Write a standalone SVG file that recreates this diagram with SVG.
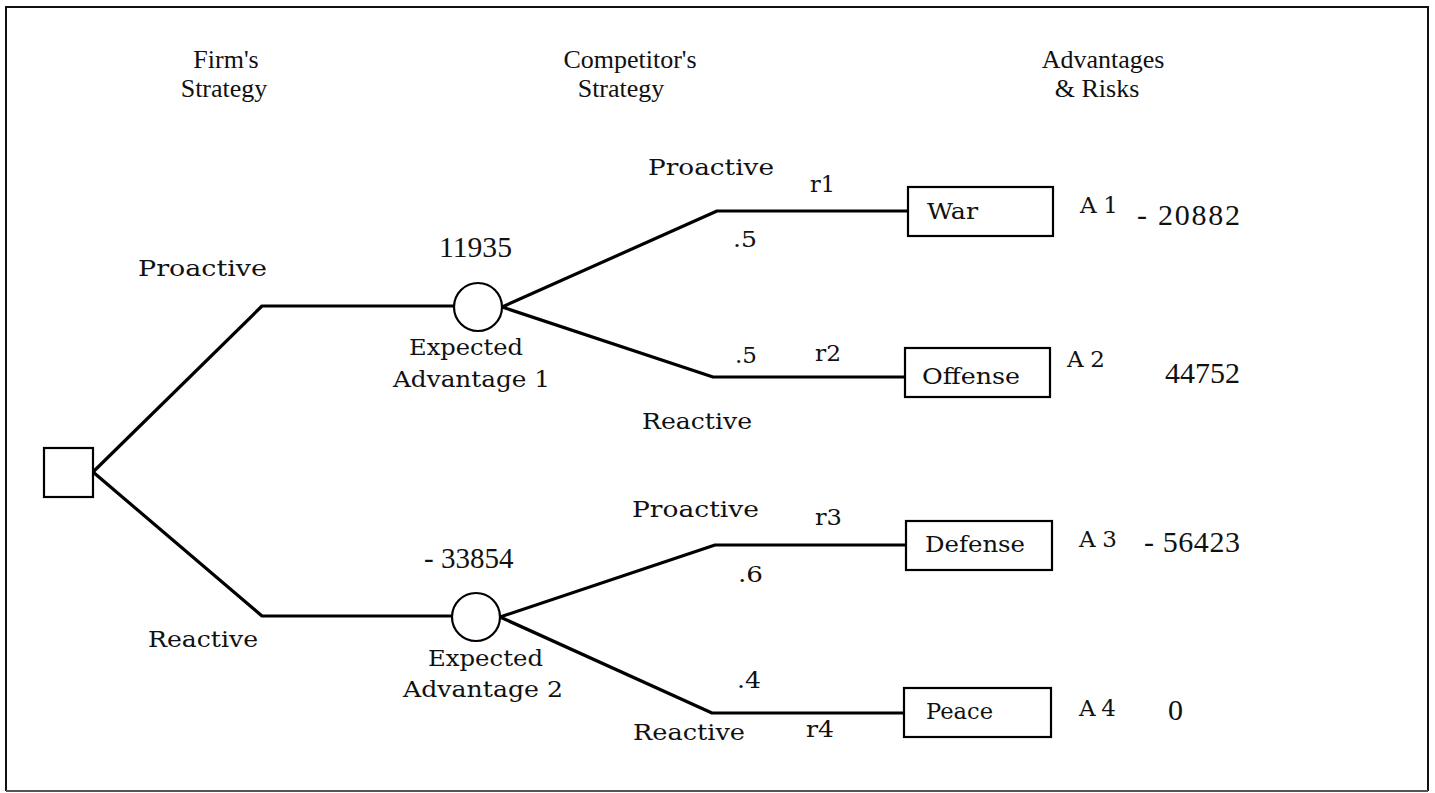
<svg xmlns="http://www.w3.org/2000/svg" width="1435" height="793" viewBox="0 0 1435 793">
  <style>
    .frame { fill: none; stroke: #111; stroke-width: 2; }
    .frame-bottom { stroke: #555; stroke-width: 2; }
    .edge { fill: none; stroke: #000; stroke-width: 3.2; stroke-linejoin: round; }
    .node { fill: #fff; stroke: #000; stroke-width: 2.2; }
    .head { font-family: "Liberation Serif", "Times New Roman", serif; font-size: 26px; fill: #111; text-anchor: middle; }
    .lab { font-family: "DejaVu Serif", "Liberation Serif", serif; font-size: 23px; fill: #111; }
    .num { font-family: "Liberation Serif", "Times New Roman", serif; font-size: 30px; fill: #111; }
  </style>
  <rect width="1435" height="793" fill="#fff"/>
  <polyline class="frame" points="6,791 6,7 1428,7 1428,791"/>
  <line class="frame-bottom" x1="6" y1="791" x2="1428" y2="791"/>

  <!-- column headers -->
  <g id="headers">
    <text class="head" x="226" y="68">Firm's</text>
    <text class="head" x="224" y="97">Strategy</text>
    <text class="head" x="630" y="68">Competitor's</text>
    <text class="head" x="621" y="97">Strategy</text>
    <text class="head" x="1103" y="68">Advantages</text>
    <text class="head" x="1097" y="97">&amp; Risks</text>
  </g>

  <!-- branches of the tree -->
  <g id="connectors">
    <polyline class="edge" points="93,472 262,306 454,306"/>
    <polyline class="edge" points="93,472 262,616 452,616"/>
    <polyline class="edge" points="502,307 717,211 908,211"/>
    <polyline class="edge" points="502,307 713,377 905,377"/>
    <polyline class="edge" points="500,617 715,545 906,545"/>
    <polyline class="edge" points="500,617 712,713 904,713"/>
  </g>

  <!-- decision node -->
  <g id="decision">
    <rect class="node" x="44" y="448" width="49" height="49"/>
  </g>

  <!-- chance nodes -->
  <g id="chance1">
    <circle class="node" cx="478" cy="307" r="24"/>
    <text class="num" x="439" y="257" textLength="73" lengthAdjust="spacingAndGlyphs">11935</text>
    <text class="lab" x="409" y="355" textLength="114" lengthAdjust="spacingAndGlyphs">Expected</text>
    <text class="lab" x="393" y="387" textLength="157" lengthAdjust="spacingAndGlyphs">Advantage 1</text>
  </g>
  <g id="chance2">
    <circle class="node" cx="476" cy="617" r="24"/>
    <text class="num" x="424" y="568" style="font-size:29px">- 33854</text>
    <text class="lab" x="428" y="666" textLength="115" lengthAdjust="spacingAndGlyphs">Expected</text>
    <text class="lab" x="403" y="697" textLength="160" lengthAdjust="spacingAndGlyphs">Advantage 2</text>
  </g>

  <!-- firm's choices -->
  <g id="firm-labels">
    <text class="lab" x="138" y="276" textLength="129" lengthAdjust="spacingAndGlyphs">Proactive</text>
    <text class="lab" x="148" y="647" textLength="110" lengthAdjust="spacingAndGlyphs">Reactive</text>
  </g>

  <!-- competitor's responses -->
  <g id="competitor-labels">
    <text class="lab" x="648" y="175" textLength="126" lengthAdjust="spacingAndGlyphs">Proactive</text>
    <text class="lab" x="810" y="192" textLength="25" lengthAdjust="spacingAndGlyphs">r1</text>
    <text class="lab" x="733" y="247" textLength="24" lengthAdjust="spacingAndGlyphs">.5</text>
    <text class="lab" x="735" y="363" textLength="22" lengthAdjust="spacingAndGlyphs">.5</text>
    <text class="lab" x="815" y="361" textLength="26" lengthAdjust="spacingAndGlyphs">r2</text>
    <text class="lab" x="642" y="429" textLength="110" lengthAdjust="spacingAndGlyphs">Reactive</text>
    <text class="lab" x="632" y="517" textLength="127" lengthAdjust="spacingAndGlyphs">Proactive</text>
    <text class="lab" x="815" y="525" textLength="27" lengthAdjust="spacingAndGlyphs">r3</text>
    <text class="lab" x="738" y="582" textLength="25" lengthAdjust="spacingAndGlyphs">.6</text>
    <text class="lab" x="737" y="688" textLength="24" lengthAdjust="spacingAndGlyphs">.4</text>
    <text class="lab" x="633" y="740" textLength="112" lengthAdjust="spacingAndGlyphs">Reactive</text>
    <text class="lab" x="806" y="737" textLength="28" lengthAdjust="spacingAndGlyphs">r4</text>
  </g>

  <!-- outcomes -->
  <g id="war">
    <rect class="node" x="908" y="187" width="145" height="49"/>
    <text class="lab" x="927" y="219" textLength="51" lengthAdjust="spacingAndGlyphs">War</text>
    <text class="lab" x="1080" y="213" textLength="38" lengthAdjust="spacing">A1</text>
    <text class="num" x="1137" y="225" textLength="103" lengthAdjust="spacing">- 20882</text>
  </g>
  <g id="offense">
    <rect class="node" x="905" y="348" width="145" height="49"/>
    <text class="lab" x="922" y="384" textLength="98" lengthAdjust="spacingAndGlyphs">Offense</text>
    <text class="lab" x="1067" y="367" textLength="38" lengthAdjust="spacing">A2</text>
    <text class="num" x="1165" y="383">44752</text>
  </g>
  <g id="defense">
    <rect class="node" x="906" y="521" width="146" height="49"/>
    <text class="lab" x="925" y="552" textLength="100" lengthAdjust="spacingAndGlyphs">Defense</text>
    <text class="lab" x="1079" y="547" textLength="38" lengthAdjust="spacing">A3</text>
    <text class="num" x="1144" y="552" textLength="96" lengthAdjust="spacing">- 56423</text>
  </g>
  <g id="peace">
    <rect class="node" x="904" y="688" width="147" height="49"/>
    <text class="lab" x="926" y="719" textLength="67" lengthAdjust="spacingAndGlyphs">Peace</text>
    <text class="lab" x="1079" y="716" textLength="37" lengthAdjust="spacing">A4</text>
    <text class="num" x="1168" y="720">0</text>
  </g>
</svg>
